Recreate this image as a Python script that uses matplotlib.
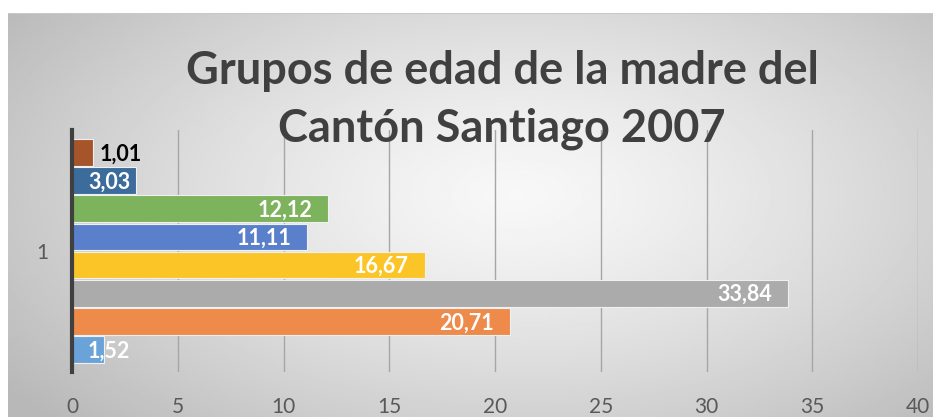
import numpy as np
import matplotlib.pyplot as plt

# series in Excel order (series 1 drawn at the bottom)
values = [1.52, 20.71, 33.84, 16.67, 11.11, 12.12, 3.03, 1.01]
labels = ["1,52", "20,71", "33,84", "16,67", "11,11", "12,12", "3,03", "1,01"]
colors = ["#6aa3d8", "#ee8a4a", "#ababab", "#fcc527", "#5b80cb", "#7db35c", "#3c6c9b", "#a6542a"]
category = "1"
xticks = [0, 5, 10, 15, 20, 25, 30, 35, 40]
title = "Grupos de edad de la madre del\nCantón Santiago 2007"

W, H = 933, 417
fig = plt.figure(figsize=(W / 100, H / 100), dpi=100)

# chart area background: radial gradient
bg = fig.add_axes([8 / W, 0, 1 - 8 / W, 1 - 13 / H])
yy, xx = np.mgrid[0:1:300j, 0:1:600j]
r = np.sqrt(((xx - 0.55) / 0.75) ** 2 + ((yy - 0.45) / 0.9) ** 2)
shade = np.clip(0.97 - 0.28 * r ** 1.3, 0.72, 1)
bg.imshow(shade, cmap="gray", vmin=0, vmax=1, aspect="auto", extent=[0, 1, 0, 1])
bg.axhline(1, color="#c8c8c8", lw=1.5)
bg.axis("off")

ax = fig.add_axes([72 / W, 45 / H, (918 - 72) / W, (372 - 45 - 85) / H])
ax.patch.set_alpha(0)
ypos = np.arange(len(values))
ax.barh(ypos, values, height=0.95, color=colors, edgecolor="#f0f0f0", linewidth=0.8, zorder=3)

lab_kw = dict(va="center", fontsize=15.5, fontweight="bold", family="Lato", zorder=4)
for y, v, lab in zip(ypos, values, labels):
    if v < 1.2:
        ax.text(v + 0.3, y - 0.05, lab, ha="left", color="black", **lab_kw)
    elif v < 3.5:
        # label does not fit: Excel keeps it next to the axis
        ax.text(0.75, y - 0.05, lab, ha="left", color="white", **lab_kw)
    else:
        ax.text(v - 0.75, y - 0.05, lab, ha="right", color="white", **lab_kw)

ax.set_xlim(0, 40)
ax.set_ylim(-0.8, 7.8)
ax.set_xticks(xticks)
ax.set_xticklabels([str(t) for t in xticks], fontsize=15, color="#595959", family="Lato")
ax.set_yticks([3.5])
ax.set_yticklabels([category], fontsize=15, color="#595959", family="Lato")
ax.tick_params(axis="x", length=0, pad=18)
ax.tick_params(axis="y", length=0, pad=17)
ax.grid(axis="x", color="#a6a6a6", lw=1, zorder=0)
for s in ["top", "right", "bottom"]:
    ax.spines[s].set_visible(False)
ax.spines["left"].set_color("#404040")
ax.spines["left"].set_linewidth(3)
ax.spines["left"].set_zorder(5)

fig.text(502 / W, 1 - 100 / H, title, ha="center", va="center", fontsize=32.5,
         fontweight="bold", color="#404040", family="Lato", linespacing=1.45)

fig.savefig("out.png", dpi=100)
